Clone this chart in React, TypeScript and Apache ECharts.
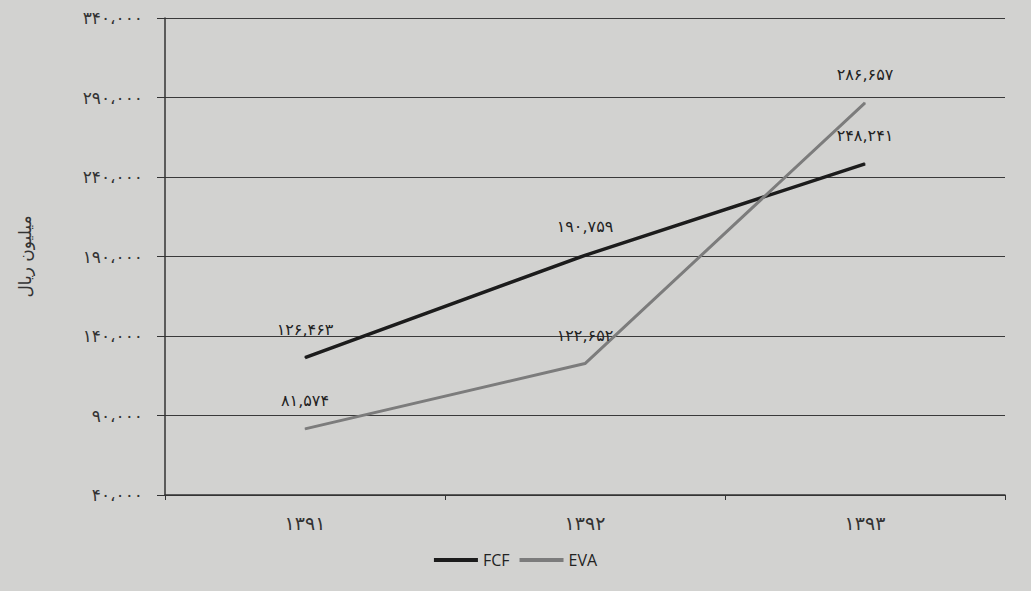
import React, { useEffect, useRef } from "react";
import * as echarts from "echarts";

const categories = ["۱۳۹۱", "۱۳۹۲", "۱۳۹۳"];
const fcfValues = [126463, 190759, 248241];
const evaValues = [81574, 122652, 286657];
const yMin = 40000;
const yMax = 340000;
const yStep = 50000;

const toFa = (s: string) => s.replace(/[0-9]/g, (d) => "۰۱۲۳۴۵۶۷۸۹"[+d]);
const fmtAxis = (v: number) => toFa(v.toLocaleString("en-US")).replace(/,/g, "،");
const fmtLabel = (v: number) => toFa(v.toLocaleString("en-US"));

export default function App() {
  const ref = useRef<HTMLDivElement>(null);
  useEffect(() => {
    document.body.style.margin = "0";
    if (!ref.current) return;
    const chart = echarts.init(ref.current, null, { renderer: "svg" });
    const font = "DejaVu Sans";
    const labelCfg = {
      show: true,
      position: "top",
      distance: 20,
      fontSize: 16,
      color: "#222",
      fontFamily: font,
      formatter: (p: any) => fmtLabel(p.value),
    };
    chart.setOption({
      animation: false,
      backgroundColor: "#d2d2d0",
      textStyle: { fontFamily: font },
      grid: { left: 165, right: 26, top: 18, bottom: 96 },
      legend: {
        bottom: 18,
        left: "center",
        itemWidth: 44,
        itemHeight: 4,
        itemGap: 10,
        icon: "rect",
        textStyle: { fontFamily: "Open Sans", fontSize: 16, color: "#222" },
        data: ["FCF", "EVA"],
      },
      xAxis: {
        type: "category",
        data: categories,
        axisLine: { lineStyle: { color: "#333", width: 1.5 } },
        axisTick: { show: true, lineStyle: { color: "#333" } },
        axisLabel: { fontSize: 19, color: "#333", margin: 18, fontFamily: font },
      },
      yAxis: {
        type: "value",
        min: yMin,
        max: yMax,
        interval: yStep,
        name: "میلیون ریال",
        nameLocation: "middle",
        nameRotate: 90,
        nameGap: 132,
        nameTextStyle: { fontSize: 17, color: "#333", fontFamily: font },
        axisLine: { show: true, lineStyle: { color: "#333", width: 1.5 } },
        axisTick: { show: true, length: 8, lineStyle: { color: "#333" } },
        axisLabel: { fontSize: 17, color: "#333", margin: 22, formatter: (v: number) => fmtAxis(v) },
        splitLine: { lineStyle: { color: "#3a3a3a", width: 1.2 } },
      },
      series: [
        {
          name: "FCF",
          type: "line",
          data: fcfValues,
          symbol: "circle",
          symbolSize: 1,
          lineStyle: { color: "#1c1c1c", width: 3.5 },
          itemStyle: { color: "#1c1c1c" },
          label: labelCfg,
        },
        {
          name: "EVA",
          type: "line",
          data: evaValues,
          symbol: "circle",
          symbolSize: 1,
          lineStyle: { color: "#7c7c7c", width: 3 },
          itemStyle: { color: "#7c7c7c" },
          label: labelCfg,
        },
      ],
    });
    return () => chart.dispose();
  }, []);
  return <div ref={ref} style={{ width: 1031, height: 591 }} />;
}
